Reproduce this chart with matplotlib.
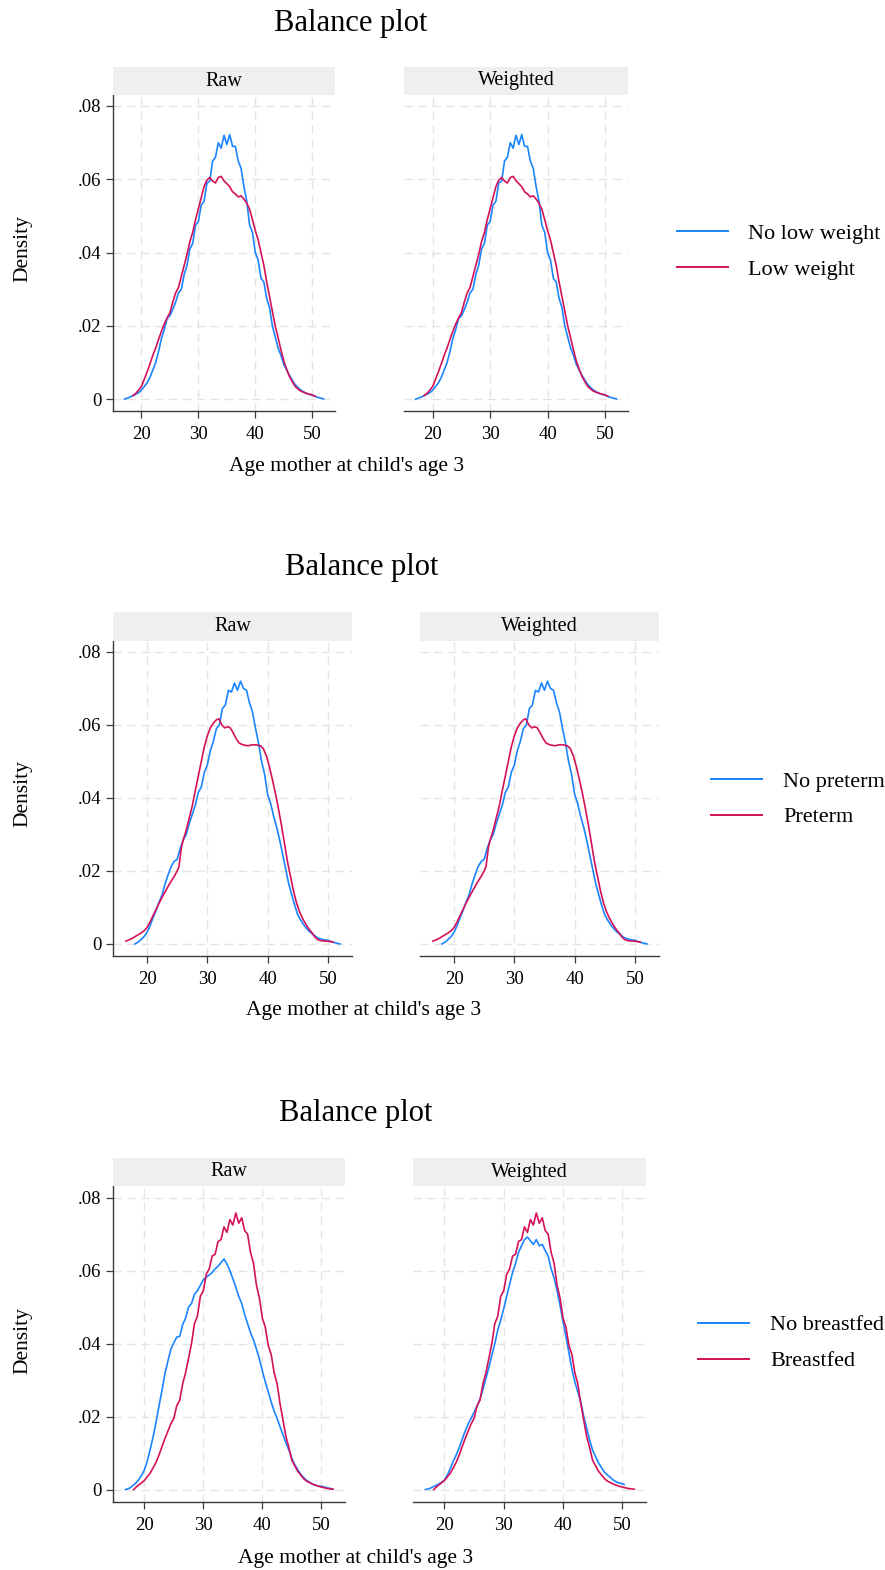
import matplotlib
matplotlib.use("Agg")
import matplotlib.pyplot as plt
from matplotlib.lines import Line2D

plt.rcParams['font.family'] = ['Liberation Serif', 'DejaVu Serif']

# ---------------------------------------------------------------- data
XTICKS = [20, 30, 40, 50]
YTICKS = [0, 0.02, 0.04, 0.06, 0.08]
YTICKLABELS = ["0", ".02", ".04", ".06", ".08"]
XLABEL = "Age mother at child's age 3"
YLABEL = "Density"
TITLE = "Balance plot"
STRIPS = ["Raw", "Weighted"]

# Low birth weight: comparison group (blue) and treated group (red)
age_nolow = [17.0, 17.5, 18.0, 18.5, 19.0, 19.5, 20.0, 20.5, 21.0, 21.5, 22.0, 22.5, 23.0, 23.5,
             24.0, 24.5, 25.0, 25.5, 26.0, 26.5, 27.0, 27.5, 28.0, 28.5, 29.0, 29.5, 30.0, 30.5,
             31.0, 31.5, 32.0, 32.5, 33.0, 33.5, 34.0, 34.5, 35.0, 35.5, 36.0, 36.5, 37.0, 37.5,
             38.0, 38.5, 39.0, 39.5, 40.0, 40.5, 41.0, 41.5, 42.0, 42.5, 43.0, 43.5, 44.0, 44.5,
             45.0, 45.5, 46.0, 46.5, 47.0, 47.5, 48.0, 48.5, 49.0, 49.5, 50.0, 50.5, 51.0, 51.5, 52.0]
dens_nolow = [0.0000, 0.0003, 0.0006, 0.0010, 0.0014, 0.0018, 0.0025, 0.0035, 0.0045, 0.0060,
              0.0080, 0.0100, 0.0130, 0.0165, 0.0190, 0.0220, 0.0228, 0.0245, 0.0265, 0.0290,
              0.0300, 0.0340, 0.0365, 0.0410, 0.0425, 0.0475, 0.0485, 0.0530, 0.0540, 0.0590,
              0.0595, 0.0650, 0.0660, 0.0700, 0.0685, 0.0720, 0.0695, 0.0722, 0.0690, 0.0690,
              0.0650, 0.0630, 0.0580, 0.0540, 0.0475, 0.0455, 0.0400, 0.0380, 0.0330, 0.0320,
              0.0275, 0.0250, 0.0200, 0.0170, 0.0140, 0.0120, 0.0095, 0.0080, 0.0065, 0.0052,
              0.0040, 0.0032, 0.0025, 0.0020, 0.0016, 0.0013, 0.0011, 0.0008, 0.0005, 0.0003, 0.0001]

age_low = [18.5, 19.0, 19.5, 20.0, 20.5, 21.0, 21.5, 22.0, 22.5, 23.0, 23.5, 24.0, 24.5, 25.0,
           25.5, 26.0, 26.5, 27.0, 27.5, 28.0, 28.5, 29.0, 29.5, 30.0, 30.5, 31.0, 31.5, 32.0,
           32.5, 33.0, 33.5, 34.0, 34.5, 35.0, 35.5, 36.0, 36.5, 37.0, 37.5, 38.0, 38.5, 39.0,
           39.5, 40.0, 40.5, 41.0, 41.5, 42.0, 42.5, 43.0, 43.5, 44.0, 44.5, 45.0, 45.5, 46.0,
           46.5, 47.0, 47.5, 48.0, 48.5, 49.0, 49.5, 50.0, 50.5]
dens_low = [0.0010, 0.0016, 0.0025, 0.0035, 0.0055, 0.0075, 0.0097, 0.0120, 0.0140, 0.0163,
            0.0185, 0.0205, 0.0222, 0.0236, 0.0265, 0.0290, 0.0305, 0.0335, 0.0365, 0.0395,
            0.0430, 0.0455, 0.0490, 0.0520, 0.0550, 0.0580, 0.0598, 0.0605, 0.0595, 0.0590,
            0.0605, 0.0608, 0.0596, 0.0588, 0.0580, 0.0566, 0.0560, 0.0552, 0.0555, 0.0546,
            0.0535, 0.0518, 0.0490, 0.0460, 0.0435, 0.0400, 0.0365, 0.0320, 0.0280, 0.0240,
            0.0200, 0.0168, 0.0135, 0.0105, 0.0082, 0.0062, 0.0048, 0.0035, 0.0028, 0.0022,
            0.0019, 0.0016, 0.0014, 0.0012, 0.0008]

# Preterm birth
age_nopre = [18.0, 18.5, 19.0, 19.5, 20.0, 20.5, 21.0, 21.5, 22.0, 22.5, 23.0, 23.5, 24.0, 24.5,
             25.0, 25.5, 26.0, 26.5, 27.0, 27.5, 28.0, 28.5, 29.0, 29.5, 30.0, 30.5, 31.0, 31.5,
             32.0, 32.5, 33.0, 33.5, 34.0, 34.5, 35.0, 35.5, 36.0, 36.5, 37.0, 37.5, 38.0, 38.5,
             39.0, 39.5, 40.0, 40.5, 41.0, 41.5, 42.0, 42.5, 43.0, 43.5, 44.0, 44.5, 45.0, 45.5,
             46.0, 46.5, 47.0, 47.5, 48.0, 48.5, 49.0, 49.5, 50.0, 50.5, 51.0, 51.5, 52.0]
dens_nopre = [0.0000, 0.0005, 0.0012, 0.0020, 0.0032, 0.0050, 0.0072, 0.0092, 0.0115, 0.0135,
              0.0165, 0.0190, 0.0212, 0.0226, 0.0232, 0.0262, 0.0285, 0.0300, 0.0330, 0.0355,
              0.0380, 0.0415, 0.0430, 0.0470, 0.0490, 0.0530, 0.0555, 0.0590, 0.0600, 0.0645,
              0.0655, 0.0695, 0.0690, 0.0715, 0.0695, 0.0720, 0.0700, 0.0695, 0.0660, 0.0635,
              0.0590, 0.0550, 0.0500, 0.0465, 0.0410, 0.0385, 0.0350, 0.0320, 0.0285, 0.0245,
              0.0205, 0.0165, 0.0135, 0.0105, 0.0080, 0.0065, 0.0052, 0.0042, 0.0033, 0.0027,
              0.0020, 0.0015, 0.0013, 0.0011, 0.0010, 0.0007, 0.0004, 0.0002, 0.0000]

age_pre = [16.5, 17.0, 17.5, 18.0, 18.5, 19.0, 19.5, 20.0, 20.5, 21.0, 21.5, 22.0, 22.5, 23.0,
           23.5, 24.0, 24.5, 25.0, 25.3, 25.7, 26.0, 26.5, 27.0, 27.5, 28.0, 28.5, 29.0, 29.5,
           30.0, 30.5, 31.0, 31.5, 31.9, 32.4, 32.9, 33.4, 33.8, 34.3, 34.8, 35.3, 36.0, 36.8,
           37.5, 38.2, 38.8, 39.3, 39.8, 40.3, 40.8, 41.3, 41.8, 42.3, 42.8, 43.3, 43.8, 44.3,
           44.8, 45.3, 45.8, 46.3, 46.8, 47.3, 47.8, 48.3, 48.8, 49.5, 50.2, 50.9]
dens_pre = [0.0008, 0.0011, 0.0015, 0.0020, 0.0025, 0.0030, 0.0036, 0.0045, 0.0060, 0.0078,
            0.0095, 0.0112, 0.0128, 0.0143, 0.0158, 0.0172, 0.0185, 0.0200, 0.0212, 0.0265,
            0.0285, 0.0312, 0.0345, 0.0378, 0.0420, 0.0460, 0.0500, 0.0540, 0.0570, 0.0592,
            0.0605, 0.0614, 0.0617, 0.0600, 0.0592, 0.0595, 0.0592, 0.0578, 0.0562, 0.0550,
            0.0545, 0.0543, 0.0546, 0.0545, 0.0543, 0.0535, 0.0515, 0.0485, 0.0450, 0.0412,
            0.0370, 0.0325, 0.0275, 0.0225, 0.0185, 0.0145, 0.0112, 0.0088, 0.0070, 0.0055,
            0.0042, 0.0032, 0.0020, 0.0012, 0.0009, 0.0008, 0.0007, 0.0005]

# Breastfeeding: comparison group raw and reweighted, treated group
age_nobf_raw = [16.8, 17.5, 18.0, 18.5, 19.0, 19.5, 20.0, 20.5, 21.0, 21.5, 22.0, 22.5, 23.0,
                23.5, 24.0, 24.5, 25.0, 25.5, 26.0, 26.5, 27.0, 27.5, 28.0, 28.5, 29.0, 29.5,
                30.0, 30.5, 31.0, 31.5, 32.0, 32.5, 33.0, 33.5, 34.0, 34.5, 35.0, 35.5, 36.0,
                36.5, 37.0, 37.5, 38.0, 38.5, 39.0, 39.5, 40.0, 40.5, 41.0, 41.5, 42.0, 42.5,
                43.0, 43.5, 44.0, 44.5, 45.0, 45.5, 46.0, 46.5, 47.0, 47.5, 48.0, 48.5, 49.0,
                49.5, 50.0, 50.5, 51.0, 51.5, 51.8]
dens_nobf_raw = [0.0000, 0.0004, 0.0010, 0.0017, 0.0026, 0.0038, 0.0053, 0.0078, 0.0110, 0.0145,
                 0.0185, 0.0230, 0.0272, 0.0318, 0.0352, 0.0385, 0.0402, 0.0418, 0.0420, 0.0452,
                 0.0470, 0.0500, 0.0510, 0.0535, 0.0545, 0.0560, 0.0575, 0.0582, 0.0588, 0.0595,
                 0.0605, 0.0612, 0.0622, 0.0632, 0.0618, 0.0600, 0.0578, 0.0555, 0.0530, 0.0510,
                 0.0480, 0.0455, 0.0430, 0.0410, 0.0385, 0.0358, 0.0325, 0.0295, 0.0268, 0.0240,
                 0.0215, 0.0195, 0.0172, 0.0150, 0.0128, 0.0108, 0.0085, 0.0068, 0.0054, 0.0042,
                 0.0033, 0.0025, 0.0020, 0.0015, 0.0012, 0.0010, 0.0009, 0.0007, 0.0005, 0.0003,
                 0.0002]

age_nobf_wt = [16.8, 17.5, 18.0, 18.5, 19.0, 19.5, 20.0, 20.5, 21.0, 21.5, 22.0, 22.5, 23.0,
               23.5, 24.0, 24.5, 25.0, 25.5, 26.0, 26.5, 27.0, 27.5, 28.0, 28.5, 29.0, 29.5,
               30.0, 30.5, 31.0, 31.5, 32.0, 32.5, 33.0, 33.5, 34.0, 34.5, 35.0, 35.5, 36.0,
               36.5, 37.0, 37.5, 38.0, 38.5, 39.0, 39.5, 40.0, 40.5, 41.0, 41.5, 42.0, 42.5,
               43.0, 43.5, 44.0, 44.5, 45.0, 45.5, 46.0, 46.5, 47.0, 47.5, 48.0, 48.5, 49.0,
               49.5, 50.0, 50.3]
dens_nobf_wt = [0.0000, 0.0003, 0.0007, 0.0011, 0.0015, 0.0020, 0.0026, 0.0040, 0.0058, 0.0078,
                0.0095, 0.0115, 0.0138, 0.0160, 0.0180, 0.0195, 0.0212, 0.0228, 0.0248, 0.0275,
                0.0305, 0.0335, 0.0368, 0.0400, 0.0437, 0.0465, 0.0495, 0.0530, 0.0563, 0.0595,
                0.0620, 0.0650, 0.0668, 0.0685, 0.0692, 0.0682, 0.0672, 0.0685, 0.0668, 0.0672,
                0.0655, 0.0640, 0.0605, 0.0580, 0.0545, 0.0505, 0.0460, 0.0420, 0.0375, 0.0330,
                0.0295, 0.0268, 0.0240, 0.0200, 0.0168, 0.0135, 0.0108, 0.0090, 0.0073, 0.0060,
                0.0048, 0.0040, 0.0033, 0.0026, 0.0021, 0.0018, 0.0016, 0.0014]

age_bf = [18.2, 18.5, 19.0, 19.5, 20.0, 20.5, 21.0, 21.5, 22.0, 22.5, 23.0, 23.5, 24.0, 24.5,
          25.0, 25.5, 26.0, 26.5, 27.0, 27.5, 28.0, 28.5, 29.0, 29.5, 30.0, 30.5, 31.0, 31.5,
          32.0, 32.5, 33.0, 33.5, 34.0, 34.5, 35.0, 35.5, 36.0, 36.5, 37.0, 37.5, 38.0, 38.5,
          39.0, 39.5, 40.0, 40.5, 41.0, 41.5, 42.0, 42.5, 43.0, 43.5, 44.0, 44.5, 45.0, 45.5,
          46.0, 46.5, 47.0, 47.5, 48.0, 48.5, 49.0, 49.5, 50.0, 50.5, 51.0, 51.5, 52.0]
dens_bf = [0.0000, 0.0005, 0.0012, 0.0018, 0.0025, 0.0035, 0.0045, 0.0060, 0.0075, 0.0095,
           0.0118, 0.0140, 0.0160, 0.0180, 0.0195, 0.0230, 0.0245, 0.0290, 0.0320, 0.0360,
           0.0400, 0.0455, 0.0475, 0.0530, 0.0545, 0.0590, 0.0605, 0.0640, 0.0645, 0.0680,
           0.0685, 0.0720, 0.0705, 0.0740, 0.0725, 0.0758, 0.0730, 0.0745, 0.0710, 0.0700,
           0.0650, 0.0620, 0.0560, 0.0525, 0.0470, 0.0445, 0.0395, 0.0370, 0.0320, 0.0290,
           0.0235, 0.0190, 0.0145, 0.0115, 0.0080, 0.0065, 0.0050, 0.0040, 0.0030, 0.0023,
           0.0019, 0.0015, 0.0012, 0.0009, 0.0007, 0.0005, 0.0003, 0.0002, 0.0001]

# ---------------------------------------------------------------- style
BLUE = '#1a85ff'
RED = '#d41159'
GRID = '#e4e4e4'
STRIP_BG = '#efefef'
AXIS_COL = '#3a3a3a'

W, H = 885, 1570
fig = plt.figure(figsize=(W / 100, H / 100), dpi=100)


def rect(left, top, right, bottom):
    """Figure-fraction rectangle from pixel edges measured from the top-left."""
    return [left / W, 1 - bottom / H, (right - left) / W, (bottom - top) / H]


def fx(x):
    return x / W


def fy(y):
    return 1 - y / H


def style_axes(ax, xlim, ylim, show_y):
    ax.set_xlim(*xlim)
    ax.set_ylim(*ylim)
    ax.set_xticks(XTICKS)
    ax.set_yticks(YTICKS)
    ax.set_yticklabels(YTICKLABELS)
    ax.grid(True, color=GRID, linewidth=1.0, linestyle=(0, (6, 4)))
    ax.set_axisbelow(True)
    for s in ('top', 'right'):
        ax.spines[s].set_visible(False)
    for s in ('left', 'bottom'):
        ax.spines[s].set_color(AXIS_COL)
        ax.spines[s].set_linewidth(1.0)
    ax.tick_params(direction='out', length=5, width=0.9, color=AXIS_COL,
                   labelsize=13.5, labelcolor='black', pad=3.5)
    ax.tick_params(axis='x', pad=6)
    if not show_y:
        ax.spines['left'].set_visible(False)
        ax.tick_params(axis='y', left=False, labelleft=False)


def strip(left, top, right, bottom, label):
    sax = fig.add_axes(rect(left, top, right, bottom))
    sax.set_facecolor(STRIP_BG)
    sax.set_xticks([])
    sax.set_yticks([])
    for s in sax.spines.values():
        s.set_visible(False)
    sax.text(0.5, 0.5, label, ha='center', va='center', fontsize=14.5,
             transform=sax.transAxes)


panels = [
    dict(curves=[[(age_nolow, dens_nolow), (age_low, dens_low)],
                 [(age_nolow, dens_nolow), (age_low, dens_low)]],
         labels=["No low weight", "Low weight"],
         raw=(113, 335), wt=(404, 628), strip_top=67, top=95, bottom=411,
         xlim=(15, 54), ylim=(-0.0032, 0.083),
         title=(351, 24), xlab=(347, 467), ylab=(23, 249),
         leg_line=(677, 728), leg_text=748, leg_y=(231, 267)),
    dict(curves=[[(age_nopre, dens_nopre), (age_pre, dens_pre)],
                 [(age_nopre, dens_nopre), (age_pre, dens_pre)]],
         labels=["No preterm", "Preterm"],
         raw=(113, 352), wt=(420, 659), strip_top=612, top=641, bottom=956,
         xlim=(14.35, 54), ylim=(-0.0033, 0.083),
         title=(362, 567), xlab=(364, 1011), ylab=(23, 794),
         leg_line=(711, 762), leg_text=783, leg_y=(779, 815)),
    dict(curves=[[(age_nobf_raw, dens_nobf_raw), (age_bf, dens_bf)],
                 [(age_nobf_wt, dens_nobf_wt), (age_bf, dens_bf)]],
         labels=["No breastfed", "Breastfed"],
         raw=(113, 345), wt=(413, 646), strip_top=1158, top=1186, bottom=1502,
         xlim=(14.7, 54), ylim=(-0.0034, 0.0832),
         title=(356, 1113), xlab=(356, 1558), ylab=(23, 1341),
         leg_line=(698, 749), leg_text=770, leg_y=(1323, 1359)),
]

for p in panels:
    for i, (lr, strip_label) in enumerate(zip((p['raw'], p['wt']), STRIPS)):
        ax = fig.add_axes(rect(lr[0], p['top'], lr[1], p['bottom']))
        style_axes(ax, p['xlim'], p['ylim'], show_y=(i == 0))
        for (xs, ys), col in zip(p['curves'][i], (BLUE, RED)):
            ax.plot(xs, ys, color=col, linewidth=1.2, solid_joinstyle='round')
        strip(lr[0], p['strip_top'], lr[1], p['top'], strip_label)

    fig.text(fx(p['title'][0]), fy(p['title'][1]), TITLE, ha='center', va='center',
             fontsize=22)
    fig.text(fx(p['xlab'][0]), fy(p['xlab'][1]), XLABEL, ha='center', va='center',
             fontsize=15.5)
    fig.text(fx(p['ylab'][0]), fy(p['ylab'][1]), YLABEL, ha='center', va='center',
             rotation=90, fontsize=15.5)

    for label, col, yy in zip(p['labels'], (BLUE, RED), p['leg_y']):
        fig.add_artist(Line2D([fx(p['leg_line'][0]), fx(p['leg_line'][1])], [fy(yy), fy(yy)],
                              transform=fig.transFigure, color=col, linewidth=1.4))
        fig.text(fx(p['leg_text']), fy(yy + 3), label, ha='left', va='center', fontsize=16)

fig.savefig('out.png', dpi=100, facecolor='white')
